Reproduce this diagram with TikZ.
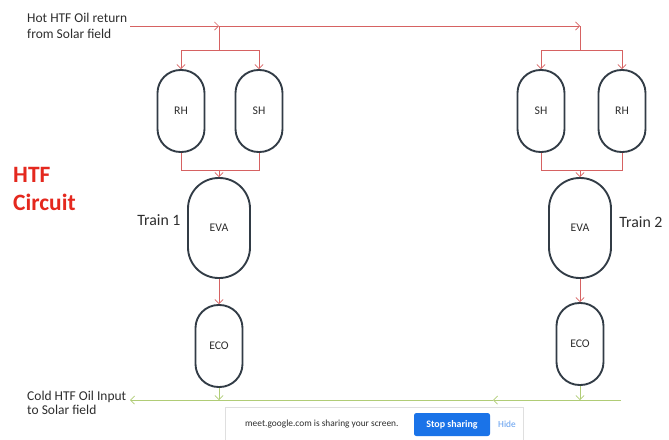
\documentclass[tikz,border=0pt]{standalone}
\usepackage{fontspec}
\setmainfont{Carlito}
\usetikzlibrary{positioning}
\usetikzlibrary{arrows.meta}
\definecolor{hotred}{RGB}{214,98,98}
\definecolor{coldgreen}{RGB}{176,204,118}
\definecolor{shell}{RGB}{50,60,70}
\definecolor{titlered}{RGB}{228,40,30}
\definecolor{inktext}{RGB}{45,45,45}
\definecolor{meetblue}{RGB}{26,115,232}
\tikzset{
    vessel/.style = {rectangle, rounded corners=0.69cm, line width=1.6pt, draw=shell, fill=white, minimum width=1.41cm, minimum height=2.46cm, font=\fontsize{10}{12}\selectfont, text=inktext},
    vesselb/.style = {vessel, rounded corners=0.92cm, minimum width=1.86cm, minimum height=3.0cm},
    hotpipe/.style = {line width=0.6pt, hotred},
    coldpipe/.style = {line width=0.6pt, coldgreen},
    tip/.style = {-{Straight Barb[length=3.5pt,width=7pt]}},
    note/.style = {align=left, inner sep=0pt, text=inktext, anchor=west},
    train/.style = {inner sep=0pt, text=inktext, font=\fontsize{13.5}{15}\selectfont},
    heading/.style = {align=left, inner sep=0pt, text=titlered, anchor=west, font=\bfseries\fontsize{20}{24}\selectfont},
    banner/.style = {draw=gray!25, fill=white, minimum width=8.94cm, minimum height=1.14cm},
    button/.style = {fill=meetblue, rounded corners=2pt, text=white, minimum width=2.28cm, minimum height=0.69cm, font=\bfseries\fontsize{8.5}{10}\selectfont},
}

\begin{document}
\begin{tikzpicture}[x=0.03cm, y=-0.03cm]
\useasboundingbox (0,0) rectangle (669,439);
% labels
\node[note, font=\fontsize{11.5}{13.6}\selectfont] at (27,26) (hottxt) {Hot HTF Oil return\\from Solar field};
\node[note, font=\fontsize{11.5}{12}\selectfont] at (27,403) (coldtxt) {Cold HTF Oil Input\\to Solar field};
\node[heading] at (13,189) (title) {HTF\\Circuit};
\node[train] at (159,220) (train1) {Train 1};
\node[train] at (641,222) (train2) {Train 2};
% train 1
\node[vessel] at (181,111) (rh1) {RH};
\node[vessel] at (259,111) (sh1) {SH};
\node[vesselb] at (219,228) (eva1) {EVA};
\node[vessel] at (219,346) (eco1) {ECO};
% train 2
\node[vessel] at (541,111) (sh2) {SH};
\node[vessel] at (622,111) (rh2) {RH};
\node[vesselb] at (580,228) (eva2) {EVA};
\node[vessel] at (580,344) (eco2) {ECO};
% pipe points
\coordinate (hotin) at (130,26);
\coordinate (hot1) at (219,26);
\coordinate (hot2) at (580,26);
\coordinate (split1) at (219,50);
\coordinate (split2) at (580,50);
\coordinate (join1) at (219,170);
\coordinate (join2) at (580,170);
\coordinate (coldend) at (621,400);
\coordinate (coldmid) at (493,400);
\coordinate (coldout) at (130,400);
\coordinate (cold1) at (219,400);
\coordinate (cold2) at (580,400);
%
\draw[hotpipe, tip] (hotin) -- (hot1);
\draw[hotpipe, tip] (hot1) -- (hot2);
\draw[hotpipe] (hot1) -- (split1);
\draw[hotpipe] (hot2) -- (split2);
\draw[hotpipe, tip] (split1) -| (rh1.north);
\draw[hotpipe, tip] (split1) -| (sh1.north);
\draw[hotpipe, tip] (split2) -| (sh2.north);
\draw[hotpipe, tip] (split2) -| (rh2.north);
\draw[hotpipe] (rh1.south) |- (join1);
\draw[hotpipe] (sh1.south) |- (join1);
\draw[hotpipe] (sh2.south) |- (join2);
\draw[hotpipe] (rh2.south) |- (join2);
\draw[hotpipe, tip] (join1) -- (eva1.north);
\draw[hotpipe, tip] (join2) -- (eva2.north);
\draw[hotpipe, tip] (eva1.south) -- (eco1.north);
\draw[hotpipe, tip] (eva2.south) -- (eco2.north);
%
\draw[coldpipe, tip] (eco1.south) -- (cold1);
\draw[coldpipe, tip] (eco2.south) -- (cold2);
\draw[coldpipe, tip] (coldend) -- (coldmid);
\draw[coldpipe, tip] (coldmid) -- (coldout);
% sharing bar
\node[banner] at (374,426) (bar) {};
\node[inner sep=0pt, anchor=west, text=inktext, font=\fontsize{8}{10}\selectfont] at (245,424) (msg) {meet.google.com is sharing your screen.};
\node[button] at (452,424.5) (stop) {Stop sharing};
\node[inner sep=0pt, text=meetblue!70, font=\fontsize{8}{10}\selectfont] at (507,424) (hide) {Hide};
\end{tikzpicture}
\end{document}
